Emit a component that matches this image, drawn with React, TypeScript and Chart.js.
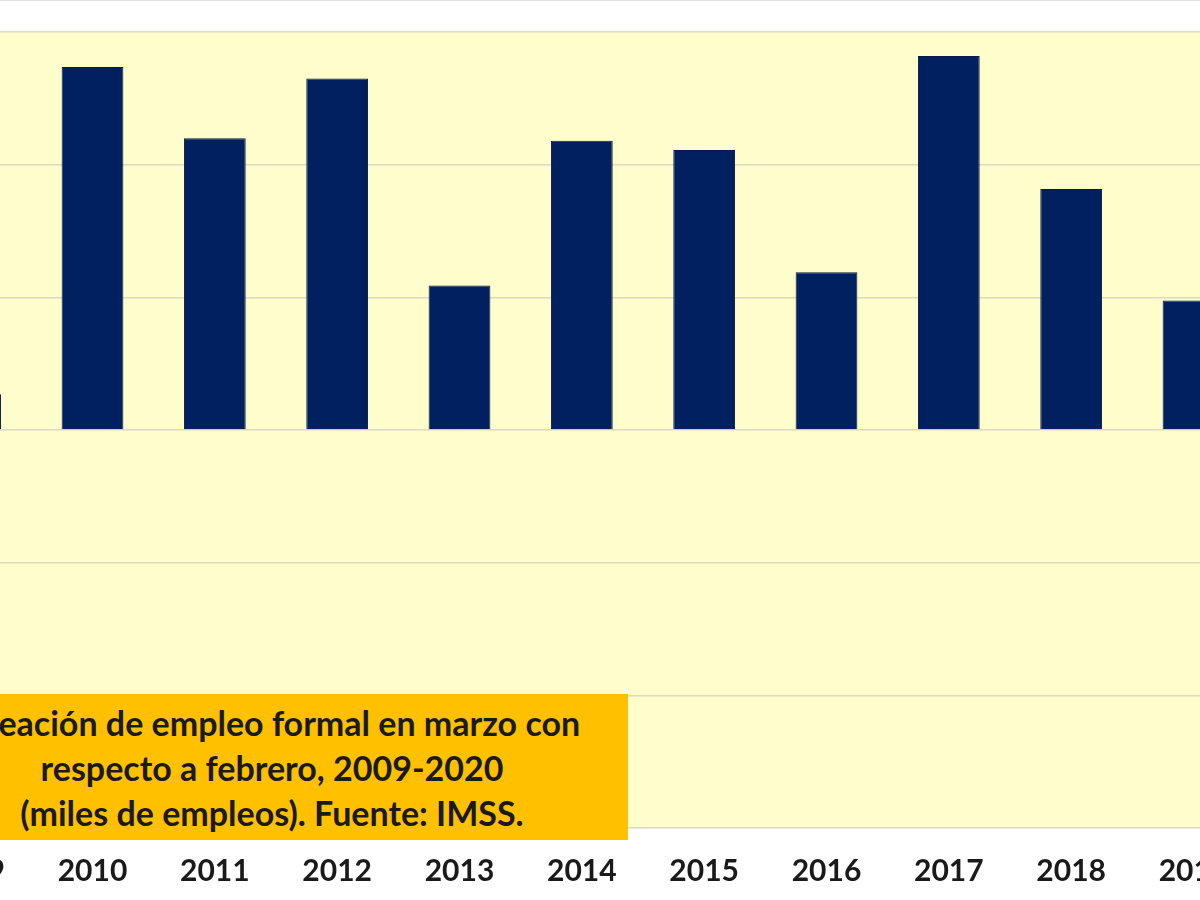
import { useEffect, useRef } from 'react';
import { Chart, registerables } from 'chart.js';

Chart.register(...registerables);

// años (eje x) y creación de empleo formal en marzo, miles de empleos
const anios = ['2009', '2010', '2011', '2012', '2013', '2014', '2015', '2016', '2017', '2018', '2019', '2020'];
const empleos = [13.5, 136.8, 110.0, 132.5, 54.5, 109.0, 105.5, 59.5, 141.0, 90.8, 48.8, -130.6];
const yMin = -150;
const yMax = 150;
const yPaso = 50;

const tituloLineas = [
    'Creación de empleo formal en marzo con',
    'respecto a febrero, 2009-2020',
    '(miles de empleos). Fuente: IMSS.',
];

const fondoPlot = {
    id: 'fondoPlot',
    beforeDraw(chart: any) {
        const { ctx, chartArea } = chart;
        ctx.save();
        ctx.fillStyle = '#FFFDCC';
        ctx.fillRect(chartArea.left, chartArea.top, chartArea.right - chartArea.left, chartArea.bottom - chartArea.top);
        ctx.restore();
    },
};

export default function App() {
    const canvasRef = useRef<HTMLCanvasElement>(null);

    useEffect(() => {
        if (!canvasRef.current) return;
        const chart = new Chart(canvasRef.current as any, {
            type: 'bar',
            data: {
                labels: anios,
                datasets: [{
                    data: empleos,
                    backgroundColor: '#002060',
                    borderColor: '#0a1a45',
                    borderWidth: 1,
                    barPercentage: 0.505,
                    categoryPercentage: 1,
                }],
            },
            options: {
                animation: false,
                responsive: true,
                maintainAspectRatio: false,
                layout: { padding: { top: 32, left: 0, right: 0, bottom: 0 } },
                plugins: { legend: { display: false }, tooltip: { enabled: false } },
                scales: {
                    x: {
                        grid: { display: false },
                        border: { display: false },
                        ticks: {
                            color: '#1a1a1a',
                            font: { family: 'Lato', size: 30, weight: 'bold' },
                            padding: 17,
                            maxRotation: 0,
                        },
                        afterFit: (scale: any) => { scale.height = 72; },
                    },
                    y: {
                        min: yMin,
                        max: yMax,
                        ticks: { display: false, stepSize: yPaso },
                        grid: { color: '#dcdac0', lineWidth: 1.5, drawTicks: false },
                        border: { display: false },
                        afterFit: (scale: any) => { scale.width = 0; },
                    },
                },
            },
            plugins: [fondoPlot],
        });
        return () => chart.destroy();
    }, []);

    return (
        <div style={{ position: 'fixed', top: 0, left: 0, width: '1200px', height: '900px', overflow: 'hidden', background: '#ffffff', borderTop: '1px solid #e2e2e2', boxSizing: 'border-box' }}>
            <div style={{ position: 'absolute', left: '-91px', top: '-1px', width: '1468px', height: '900px' }}>
                <canvas ref={canvasRef}></canvas>
            </div>
            <div style={{
                position: 'absolute',
                left: '-84px',
                top: '693px',
                width: '712px',
                height: '146px',
                background: '#FFC000',
                display: 'flex',
                flexDirection: 'column',
                justifyContent: 'center',
                alignItems: 'center',
                fontFamily: 'Lato, sans-serif',
                fontWeight: 'bold',
                fontSize: '34px',
                lineHeight: '45px',
                color: '#1a1a1a',
                textAlign: 'center',
            }}>
                {tituloLineas.map((linea, i) => (
                    <div key={i} style={{ whiteSpace: 'nowrap' }}>{linea}</div>
                ))}
            </div>
        </div>
    );
}
